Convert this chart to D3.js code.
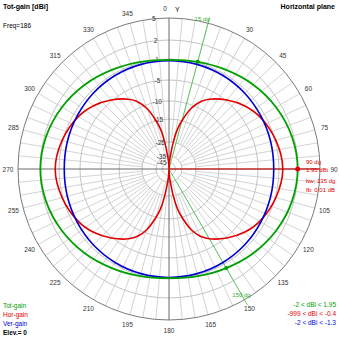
<!DOCTYPE html>
<html>
<head>
<meta charset="utf-8">
<script src="https://cdn.jsdelivr.net/npm/d3@7"></script>
<style>
  html, body { margin: 0; padding: 0; background: #fff; }
  svg { display: block; font-family: "Liberation Sans", Arial, sans-serif; }
</style>
</head>
<body>
<svg id="chart" width="339" height="339"></svg>
<script>
// Radial gain ticks (dBi) shown along the vertical axis
const gainTicks = [5, 2, -1, -5, -10, -15, -25, -35, -45];
// Angle labels (degrees, clockwise from top)
const angleLabels = [0, 30, 45, 60, 75, 90, 105, 120, 135, 150, 165, 180, 195, 210, 225, 240, 255, 270, 285, 300, 315, 330, 345];

// Total gain, sampled every 15 degrees
const totAngles = [0, 15, 30, 45, 60, 75, 90, 105, 120, 135, 150, 165, 180, 195, 210, 225, 240, 255, 270, 285, 300, 315, 330, 345];
const totGain   = [-1.15, -0.85, -0.3, 0.45, 1.15, 1.7, 1.95, 1.7, 1.15, 0.45, -0.3, -0.85, -1.15, -0.85, -0.3, 0.45, 1.15, 1.7, 1.94, 1.7, 1.15, 0.45, -0.3, -0.85];

// Vertical polarisation gain
const verAngles = totAngles;
const verGain   = [-1.3, -1.32, -1.4, -1.55, -1.75, -1.9, -2.0, -1.9, -1.75, -1.55, -1.4, -1.32, -1.3, -1.32, -1.4, -1.55, -1.75, -1.9, -2.0, -1.9, -1.75, -1.55, -1.4, -1.32];

// Horizontal polarisation gain (nulls along the Y axis)
const horAngles = [0, 3, 6, 9, 12, 15, 20, 25, 30, 40, 50, 60, 75, 90, 105, 120, 130, 140, 150, 155, 160, 165, 168, 171, 174, 177,
                   180, 183, 186, 189, 192, 195, 200, 205, 210, 220, 230, 240, 255, 270, 285, 300, 310, 320, 330, 335, 340, 345, 348, 351, 354, 357];
const horGain   = [-999, -45, -35, -25, -19, -15, -11, -8.5, -7, -4.8, -3.2, -2, -0.9, -0.4, -0.9, -2, -3.2, -4.8, -7, -8.5, -11, -15, -19, -25, -35, -45,
                   -999, -45, -35, -25, -19, -15, -11, -8.5, -7, -4.8, -3.2, -2, -0.9, -0.4, -0.9, -2, -3.2, -4.8, -7, -8.5, -11, -15, -19, -25, -35, -45];

// Beamwidth markers (-3 dB points) and maximum
const bwAngles = [15, 150];
const maxAngle = 90, maxGain = 1.95;

const legendNames  = ["Tot-gain", "Hor-gain", "Ver-gain"];
const legendRanges = ["-2 < dBi < 1.95", "-999 < dBi < -0.4", "-2 < dBi < -1.3"];
const colors = { tot: "#00a000", hor: "#e00000", ver: "#0000d0" };

const svg = d3.select("#chart");
const cx = 169, cy = 169, R = 151;

// Compressed (log-like) radial scale for dBi
const r = d3.scaleLinear()
  .domain([-55, -45, -35, -25, -15, -10, -5, -1, 2, 5])
  .range([0, 6.5, 13, 27, 50, 68, 89, 110, 129, R])
  .clamp(true);

const g = svg.append("g").attr("transform", `translate(${cx},${cy})`);
const rad = a => a * Math.PI / 180;
const px = (a, rr) => rr * Math.sin(rad(a));
const py = (a, rr) => -rr * Math.cos(rad(a));

// Radial spokes every 5 degrees
const spokes = d3.range(0, 360, 5).filter(a => a % 90 !== 0);
g.selectAll("line.spoke").data(spokes).join("line")
  .attr("x1", a => px(a, a % 15 === 0 ? r(-35) : r(-25)))
  .attr("y1", a => py(a, a % 15 === 0 ? r(-35) : r(-25)))
  .attr("x2", a => px(a, R)).attr("y2", a => py(a, R))
  .attr("stroke", "#d4d4d4").attr("stroke-width", 1);

// Gain circles
g.selectAll("circle.grid").data(gainTicks.slice(1)).join("circle")
  .attr("r", d => r(d)).attr("fill", "none")
  .attr("stroke", "#c4c4c4").attr("stroke-width", 1);
g.append("circle").attr("r", R).attr("fill", "none").attr("stroke", "#7a7a7a").attr("stroke-width", 1);

// Axes
g.append("line").attr("x1", -R).attr("x2", R).attr("y1", 0).attr("y2", 0).attr("stroke", "#6a6a6a");
g.append("line").attr("x1", 0).attr("x2", 0).attr("y1", -R).attr("y2", R).attr("stroke", "#6a6a6a");

// Gain tick labels
g.selectAll("text.gt").data(gainTicks).join("text")
  .attr("x", d => -2 - r(d) * 0.075).attr("y", d => -r(d) + 2.5)
  .attr("text-anchor", "end").attr("font-size", 6.5).attr("fill", "#333")
  .text(d => d);

// Angle labels
g.selectAll("text.al").data(angleLabels).join("text")
  .attr("x", a => px(a, 161) + (a === 0 ? -4 : a === 90 ? 4 : 0))
  .attr("y", a => py(a, 161) + 2.5)
  .attr("text-anchor", "middle").attr("font-size", 6.5).attr("fill", "#333")
  .text(a => a);
g.append("text").attr("x", 6).attr("y", -cy + 11.5).attr("font-size", 7).attr("fill", "#000").text("Y");

// Beamwidth lines
g.selectAll("line.bw").data(bwAngles).join("line")
  .attr("x1", 0).attr("y1", 0)
  .attr("x2", a => px(a, R + 6)).attr("y2", a => py(a, R + 6))
  .attr("stroke", "#40c040").attr("stroke-width", 0.8);

// Maximum direction line
g.append("line").attr("x1", 0).attr("y1", 0)
  .attr("x2", px(maxAngle, R)).attr("y2", py(maxAngle, R))
  .attr("stroke", colors.hor).attr("stroke-width", 1);

// Pattern curves
const line = d3.lineRadial().angle(d => rad(d[0])).radius(d => r(d[1])).curve(d3.curveCatmullRomClosed.alpha(0.5));
const pair = (as, vs) => as.map((a, i) => [a, vs[i]]);
g.append("path").attr("d", line(pair(horAngles, horGain))).attr("fill", "none").attr("stroke", colors.hor).attr("stroke-width", 1.6);
g.append("path").attr("d", line(pair(verAngles, verGain))).attr("fill", "none").attr("stroke", colors.ver).attr("stroke-width", 1.6);
g.append("path").attr("d", line(pair(totAngles, totGain))).attr("fill", "none").attr("stroke", colors.tot).attr("stroke-width", 1.8);

// Beamwidth points on the total curve
const totAt = a => totGain[totAngles.indexOf(a)];
g.selectAll("circle.bwp").data(bwAngles).join("circle")
  .attr("cx", a => px(a, r(totAt(a)))).attr("cy", a => py(a, r(totAt(a))))
  .attr("r", 2).attr("fill", colors.tot);
g.append("circle").attr("cx", px(maxAngle, r(maxGain))).attr("cy", py(maxAngle, r(maxGain)))
  .attr("r", 2.5).attr("fill", colors.hor);

// Beamwidth labels, centred on their lines
g.append("text").attr("x", px(15, 155) - 7).attr("y", py(15, 155) + 2).attr("text-anchor", "middle")
  .attr("font-size", 6).attr("fill", "#30b030").text("15 dg");
g.append("text").attr("x", px(150, 145)).attr("y", py(150, 145) + 2).attr("text-anchor", "middle")
  .attr("font-size", 6).attr("fill", "#30b030").text("150 dg");

// Maximum annotations
const ann = ["90 dg", maxGain.toFixed(2) + " dBi", "bw: 135 dg", "fb: 0.01 dB"];
const annY = [164, 171.5, 183, 191.5];
svg.selectAll("text.ann").data(ann).join("text")
  .attr("x", 306).attr("y", (d, i) => annY[i])
  .attr("font-size", 6).attr("fill", colors.hor).text(d => d);

// Titles
svg.append("text").attr("x", 3).attr("y", 9).attr("font-size", 7).attr("font-weight", "bold").text("Tot-gain [dBi]");
svg.append("text").attr("x", 3).attr("y", 28).attr("font-size", 6.5).text("Freq=186");
svg.append("text").attr("x", 335).attr("y", 9).attr("font-size", 7).attr("font-weight", "bold").attr("text-anchor", "end").text("Horizontal plane");

// Legend
const lc = [colors.tot, colors.hor, colors.ver];
svg.selectAll("text.ln").data(legendNames).join("text")
  .attr("x", 3).attr("y", (d, i) => 308 + i * 9).attr("font-size", 6.5).attr("fill", (d, i) => lc[i]).text(d => d);
svg.append("text").attr("x", 3).attr("y", 335).attr("font-size", 6.5).attr("font-weight", "bold").text("Elev.= 0");
svg.selectAll("text.lr").data(legendRanges).join("text")
  .attr("x", 336).attr("y", (d, i) => 307 + i * 9).attr("font-size", 6.5).attr("text-anchor", "end")
  .attr("fill", (d, i) => lc[i]).text(d => d);
</script>
</body>
</html>
